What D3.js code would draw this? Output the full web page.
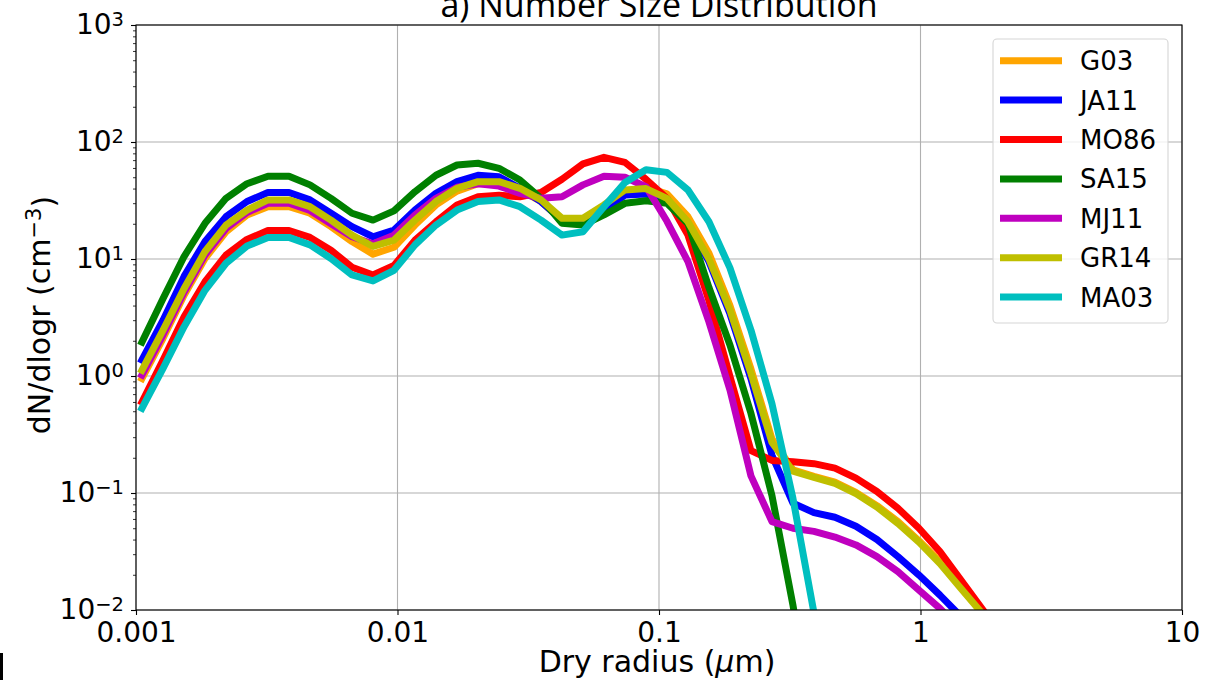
<!DOCTYPE html>
<html>
<head>
<meta charset="utf-8">
<script src="https://d3js.org/d3.v7.min.js"></script>
<style>
  body { margin: 0; background: #fff; }
  text { font-family: "DejaVu Sans", sans-serif; fill: #000; }
</style>
</head>
<body>
<div id="chart"></div>
<script>
// Dry radius bins (um)
var radius = [0.001054, 0.001269, 0.001527, 0.001836, 0.002209, 0.002658, 0.003197, 0.003847,
  0.004628, 0.005567, 0.006699, 0.008059, 0.009696, 0.011665, 0.014034, 0.016888, 0.020316,
  0.024443, 0.029404, 0.035376, 0.04256, 0.051203, 0.061601, 0.07411, 0.089159, 0.10727,
  0.12905, 0.15525, 0.18678, 0.22471, 0.2704, 0.32524, 0.39129, 0.47076, 0.56638, 0.68139,
  0.8198, 0.98651, 1.1867, 1.4279, 1.7179, 2.0668];

// dN/dlogr for each scheme
var g03 = [0.95, 2.1, 4.9, 10.1, 17.1, 23.8, 28, 28, 24.6, 18.9, 14.1, 11.0, 12.6, 19.5, 29, 38, 44, 44.5,
  39, 31, 21.5, 21.8, 28.5, 37.5, 41, 36, 23, 11.2, 4.0, 1.15, 0.29, 0.158, 0.139, 0.124, 0.101, 0.078,
  0.057, 0.039, 0.026, 0.016, 0.0098, 0.0058];
var ja11 = [1.37, 3.0, 7.1, 14.1, 23, 31, 37, 37, 32, 24.6, 18.9, 15.5, 17.7, 26.2, 36.4, 45.8, 52, 50.5,
  40.2, 31, 21.5, 20.8, 26.2, 35.2, 36, 31, 20, 9.5, 3.4, 0.95, 0.21, 0.082, 0.068, 0.062, 0.052, 0.040,
  0.0286, 0.0199, 0.0134, 0.0088, 0.0055];
var mo86 = [0.60, 1.37, 3.2, 6.4, 10.8, 14.7, 17.5, 17.5, 15.3, 11.9, 8.5, 7.3, 8.8, 14.5, 20.8, 29, 34, 35,
  34, 37, 48, 65, 74, 67, 48, 33, 16, 4.4, 0.99, 0.23, 0.19, 0.185, 0.178, 0.163, 0.134, 0.103, 0.074,
  0.050, 0.0316, 0.018, 0.0103, 0.0058];
var sa15 = [1.95, 4.6, 10.5, 20.2, 33, 44, 51, 51, 43, 33, 24.6, 21.5, 25.8, 37.6, 52, 63.6, 65.8, 59.6,
  47.3, 33, 20.2, 19.5, 23.8, 29.9, 31.5, 30, 20, 5.7, 1.84, 0.48, 0.095, 0.011, 0.001];
var mj11 = [1.02, 2.25, 5.2, 10.8, 18.2, 25, 30, 30, 26, 20, 15.5, 13.5, 16, 23.8, 33, 41, 44, 42, 36.4,
  33, 34, 43, 51, 50, 41.5, 21, 9.5, 2.9, 0.76, 0.14, 0.057, 0.05, 0.047, 0.042, 0.036, 0.0286, 0.0213,
  0.0148, 0.0103, 0.0068];
var gr14 = [1.12, 2.47, 5.6, 11.6, 19.5, 26.2, 32, 32, 28, 21.5, 16, 12.8, 14.5, 21.5, 31, 40.2, 45.8, 45.8,
  40.2, 32, 22.3, 22.3, 29, 38.9, 40, 33, 20.8, 10, 3.66, 1.05, 0.27, 0.154, 0.136, 0.121, 0.099, 0.076,
  0.055, 0.038, 0.025, 0.0153, 0.0094, 0.0055];
var ma03 = [0.53, 1.16, 2.64, 5.4, 9.2, 12.9, 15.3, 15.3, 13.2, 10.1, 7.3, 6.5, 8.0, 13.2, 19.5, 26.2, 31,
  32, 28, 21.5, 16, 17.1, 28, 45, 58, 55, 38.9, 20.8, 8.4, 2.47, 0.58, 0.09, 0.0095, 0.0008];

var seriesNames = ["G03", "JA11", "MO86", "SA15", "MJ11", "GR14", "MA03"];
var seriesValues = [g03, ja11, mo86, sa15, mj11, gr14, ma03];
var seriesColors = ["#ffa500", "#0000ff", "#ff0000", "#008000", "#bf00bf", "#bfbf00", "#00bfbf"];

// Axis ticks
var xTicks = [0.001, 0.01, 0.1, 1, 10];
var xTickLabels = ["0.001", "0.01", "0.1", "1", "10"];
var yExponents = [-2, -1, 0, 1, 2, 3];

// SVG size and plot margins
var svgWidth = 1215;
var svgHeight = 686;
var margin = { top: 25, right: 33, bottom: 76, left: 136 };
var width = svgWidth - margin.left - margin.right;
var height = svgHeight - margin.top - margin.bottom;

var svg = d3.select("#chart")
  .append("svg")
  .attr("width", svgWidth)
  .attr("height", svgHeight);

var chartGroup = svg.append("g")
  .attr("transform", `translate(${margin.left}, ${margin.top})`);

// Log scales
var xScale = d3.scaleLog().domain([0.001, 10]).range([0, width]);
var yScale = d3.scaleLog().domain([0.01, 1000]).range([height, 0]);

var yMajor = yExponents.map(e => Math.pow(10, e));
var yMinor = [];
yExponents.slice(0, -1).forEach(function(e) {
  for (var k = 2; k <= 9; k++) yMinor.push(k * Math.pow(10, e));
});

// Grid
chartGroup.selectAll(".xgrid")
  .data(xTicks)
  .enter()
  .append("line")
  .attr("x1", d => xScale(d)).attr("x2", d => xScale(d))
  .attr("y1", 0).attr("y2", height)
  .attr("stroke", "#b0b0b0").attr("stroke-width", 1.1);

chartGroup.selectAll(".ygrid")
  .data(yMajor)
  .enter()
  .append("line")
  .attr("x1", 0).attr("x2", width)
  .attr("y1", d => yScale(d)).attr("y2", d => yScale(d))
  .attr("stroke", "#b0b0b0").attr("stroke-width", 1.1);

// Clip for the curves
svg.append("defs").append("clipPath").attr("id", "plotclip")
  .append("rect").attr("x", 0).attr("y", 0).attr("width", width).attr("height", height);

var line = d3.line()
  .x(d => xScale(d[0]))
  .y(d => yScale(d[1]));

var curves = chartGroup.append("g").attr("clip-path", "url(#plotclip)");
seriesValues.forEach(function(vals, s) {
  var pts = vals.map((v, i) => [radius[i], v]);
  curves.append("path")
    .datum(pts)
    .attr("d", line)
    .attr("fill", "none")
    .attr("stroke", seriesColors[s])
    .attr("stroke-width", 7)
    .attr("stroke-linejoin", "round")
    .attr("stroke-linecap", "square");
});

// Axes
var xAxis = d3.axisBottom(xScale)
  .tickValues(xTicks)
  .tickFormat((d, i) => xTickLabels[i])
  .tickSize(5)
  .tickPadding(7);

var xg = chartGroup.append("g")
  .attr("transform", `translate(0, ${height})`)
  .call(xAxis);
xg.select(".domain").remove();
xg.selectAll("text").style("font-size", "28px").style("font-family", "DejaVu Sans");
xg.selectAll("line").attr("stroke-width", 1.1);

var yAxis = d3.axisLeft(yScale)
  .tickValues(yMajor)
  .tickFormat("")
  .tickSize(5)
  .tickPadding(7);

var yg = chartGroup.append("g").call(yAxis);
yg.select(".domain").remove();
yg.selectAll("line").attr("stroke-width", 1.1);
yg.selectAll(".tick text")
  .style("font-size", "28px")
  .style("font-family", "DejaVu Sans")
  .each(function(d) {
    var t = d3.select(this);
    var e = Math.round(Math.log10(d));
    t.append("tspan").text("10");
    t.append("tspan")
      .attr("dy", "-0.42em")
      .style("font-size", "19.5px")
      .text(e < 0 ? "\u2212" + (-e) : String(e));
  });

var yMinorAxis = d3.axisLeft(yScale)
  .tickValues(yMinor)
  .tickFormat("")
  .tickSize(3);
var ymg = chartGroup.append("g").call(yMinorAxis);
ymg.select(".domain").remove();
ymg.selectAll("line").attr("stroke-width", 0.8);

// Frame
chartGroup.append("rect")
  .attr("x", 0).attr("y", 0)
  .attr("width", width).attr("height", height)
  .attr("fill", "none")
  .attr("stroke", "#000")
  .attr("stroke-width", 1.1);

// Title (partly cut at the top)
svg.append("text")
  .attr("x", margin.left + width / 2)
  .attr("y", 17)
  .attr("text-anchor", "middle")
  .style("font-family", "Open Sans")
  .style("font-size", "34px")
  .text("a) Number Size Distribution");

// Axis labels
var xLabel = svg.append("text")
  .attr("x", 657)
  .attr("y", 672)
  .attr("text-anchor", "middle")
  .style("font-size", "30px");
xLabel.append("tspan").text("Dry radius (");
xLabel.append("tspan").style("font-style", "italic").text("\u03bc");
xLabel.append("tspan").text("m)");

var yLabel = svg.append("text")
  .attr("transform", "translate(50, 315) rotate(-90)")
  .attr("text-anchor", "middle")
  .style("font-size", "30px");
yLabel.append("tspan").text("dN/dlogr (cm");
yLabel.append("tspan").attr("dy", "-0.45em").style("font-size", "21px").text("\u22123");
yLabel.append("tspan").attr("dy", "0.45em").text(")");

// Legend
var legend = svg.append("g");
legend.append("rect")
  .attr("x", 993).attr("y", 39)
  .attr("width", 175).attr("height", 284)
  .attr("rx", 4)
  .attr("fill", "#fff").attr("fill-opacity", 0.8)
  .attr("stroke", "#d5d5d5").attr("stroke-width", 1.1);

seriesNames.forEach(function(name, i) {
  var cy = 60.7 + i * 39.4;
  legend.append("line")
    .attr("x1", 1000).attr("x2", 1062)
    .attr("y1", cy).attr("y2", cy)
    .attr("stroke", seriesColors[i])
    .attr("stroke-width", 7);
  legend.append("text")
    .attr("x", 1080)
    .attr("y", cy + 9.4)
    .style("font-size", "26px")
    .text(name);
});

// Stray mark at lower left edge
svg.append("rect").attr("x", 0).attr("y", 653).attr("width", 3).attr("height", 27).attr("fill", "#000");
</script>
</body>
</html>
